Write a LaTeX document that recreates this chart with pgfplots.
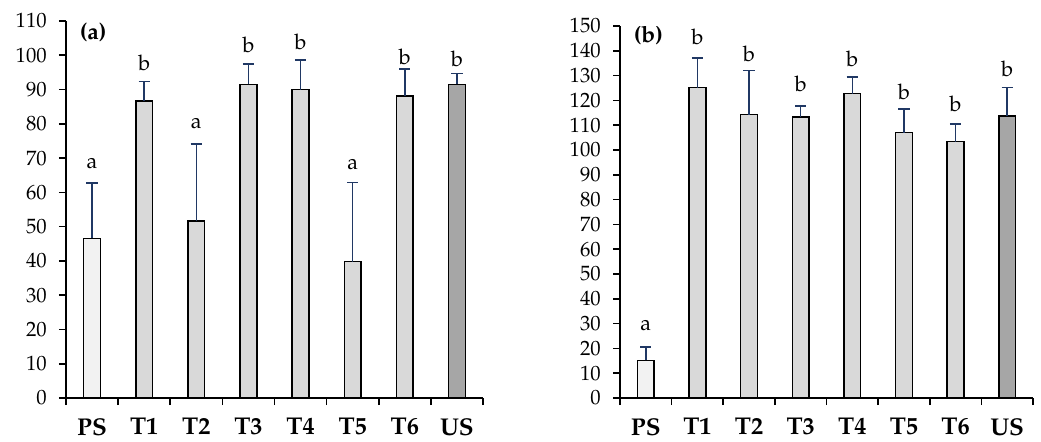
\documentclass[border=0pt]{standalone}
\usepackage[T1]{fontenc}
\usepackage{mathpazo}
\usepackage{pgfplots}
\pgfplotsset{compat=1.18}

\definecolor{psfill}{HTML}{F2F2F2}
\definecolor{tfill}{HTML}{D9D9D9}
\definecolor{usfill}{HTML}{A6A6A6}
\definecolor{errnavy}{HTML}{203864}

\pgfplotsset{
  panel/.style={
    scale only axis,
    anchor=south west,
    xmin=-0.5, xmax=7.5, ymin=0,
    axis x line*=bottom, axis y line*=left,
    axis line style={-, black, line width=1.1pt},
    tick style={black, line width=1.1pt},
    tick align=outside,
    major tick length=4.9pt,
    xtick={-0.5,0.5,...,7.5},
    xticklabel=\empty,
    extra x ticks={0,1,2,3,4,5,6,7},
    extra x tick labels={PS,T1,T2,T3,T4,T5,T6,US},
    extra x tick style={major tick length=0pt,
      tick label style={font=\fontsize{17}{19}\selectfont\bfseries, yshift=-10.5pt}},
    yticklabel style={font=\fontsize{14.5}{16}\selectfont, xshift=-5pt},
    /pgf/number format/assume math mode=true,
    ybar, bar width=11.7pt,
    error bars/y dir=plus, error bars/y explicit,
    error bars/error bar style={errnavy, line width=1.1pt},
    error bars/error mark options={rotate=90, mark size=3.9pt, errnavy, line width=1.1pt},
  },
  bars/.style={bar shift=0pt, draw=black, line width=1.1pt, fill=#1},
}
\tikzset{letter/.style={font=\fontsize{15}{17}\selectfont, inner sep=0pt, anchor=center}}

\begin{document}
\begin{tikzpicture}
\path[use as bounding box] (0,0) rectangle (728.7pt,308.7pt);

% panel (a)
\begin{axis}[panel, at={(46.2pt,30.1pt)}, width=291.9pt, height=263.9pt,
  ymax=110, ytick={0,10,...,110}]
\addplot[bars=psfill] coordinates {(0,46.6) +- (0,16.2)};
\addplot[bars=tfill] coordinates {
  (1,86.7) +- (0,5.7)
  (2,51.7) +- (0,22.4)
  (3,91.5) +- (0,6.0)
  (4,90.0) +- (0,8.7)
  (5,39.8) +- (0,23.1)
  (6,88.2) +- (0,7.8)};
\addplot[bars=usfill] coordinates {(7,91.5) +- (0,3.2)};
\node[letter] at (axis cs:0,68.5) {a};
\node[letter] at (axis cs:1,97.7) {b};
\node[letter] at (axis cs:2,80.2) {a};
\node[letter] at (axis cs:3,103.2) {b};
\node[letter] at (axis cs:4,103.8) {b};
\node[letter] at (axis cs:5,68.2) {a};
\node[letter] at (axis cs:6,99.6) {b};
\node[letter] at (axis cs:7,99.1) {b};
\node[font=\fontsize{16}{18}\selectfont\bfseries] at (axis cs:0.02,106.7) {(a)};
\end{axis}

% panel (b)
\begin{axis}[panel, at={(434pt,30.1pt)}, width=289.1pt, height=260.4pt,
  ymax=150, ytick={0,10,...,150}]
\addplot[bars=psfill] coordinates {(0,15.2) +- (0,5.3)};
\addplot[bars=tfill] coordinates {
  (1,125.2) +- (0,11.8)
  (2,114.3) +- (0,17.8)
  (3,113.2) +- (0,4.6)
  (4,122.7) +- (0,6.7)
  (5,107.0) +- (0,9.6)
  (6,103.4) +- (0,7.1)};
\addplot[bars=usfill] coordinates {(7,113.6) +- (0,11.6)};
\node[letter] at (axis cs:0,29.1) {a};
\node[letter] at (axis cs:1,145.7) {b};
\node[letter] at (axis cs:2,138.6) {b};
\node[letter] at (axis cs:3,126.6) {b};
\node[letter] at (axis cs:4,136.6) {b};
\node[letter] at (axis cs:5,123.3) {b};
\node[letter] at (axis cs:6,118.6) {b};
\node[letter] at (axis cs:7,132.9) {b};
\node[font=\fontsize{16}{18}\selectfont\bfseries] at (axis cs:0.05,146) {(b)};
\end{axis}
\end{tikzpicture}
\end{document}
